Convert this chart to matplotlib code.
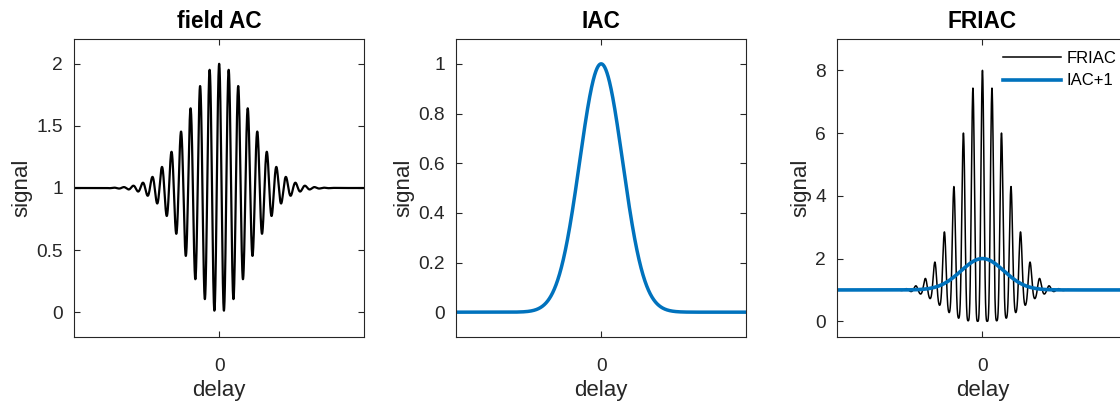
import numpy as np
import matplotlib
matplotlib.use('Agg')
import matplotlib.pyplot as plt

# Gaussian pulse autocorrelations, delay in units of the carrier period
delay_limits = (-15.2, 15.2)
pulse_sigma = 2.25          # intensity envelope width, carrier periods
carrier_period = 1.0

titles = ['field AC', 'IAC', 'FRIAC']
y_limits = [(-0.2, 2.2), (-0.1, 1.1), (-0.5, 9.0)]
y_ticks = [[0, 0.5, 1, 1.5, 2],
           [0, 0.2, 0.4, 0.6, 0.8, 1],
           [0, 2, 4, 6, 8]]
y_ticklabels = [['0', '0.5', '1', '1.5', '2'],
                ['0', '0.2', '0.4', '0.6', '0.8', '1'],
                ['0', '2', '4', '6', '8']]
legend_labels = ['FRIAC', 'IAC+1']

blue = '#0072BD'
gray = '#262626'

tau = np.linspace(delay_limits[0], delay_limits[1], 6001)
phase = 2 * np.pi * tau / carrier_period

field_env = np.exp(-tau**2 / (4 * pulse_sigma**2))
iac = np.exp(-tau**2 / (2 * pulse_sigma**2))
cross = np.exp(-3 * tau**2 / (8 * pulse_sigma**2))

field_ac = 1 + field_env * np.cos(phase)
friac = 1 + 2 * iac + 4 * cross * np.cos(phase) + iac * np.cos(2 * phase)

plt.rcParams['font.family'] = ['Liberation Sans', 'DejaVu Sans']

fig = plt.figure(figsize=(11.2, 4.01), dpi=100)
W, H = 1120, 401
lefts = [74, 456, 837.3]
axes = []
for i, left in enumerate(lefts):
    ax = fig.add_axes([left / W, (H - 337) / H, 290.3 / W, 298 / H])
    axes.append(ax)

axes[0].plot(tau, field_ac, color='black', lw=1.6)
axes[1].plot(tau, iac, color=blue, lw=2.5)
axes[2].plot(tau, friac, color='black', lw=1.1, label=legend_labels[0])
axes[2].plot(tau, iac + 1, color=blue, lw=2.6, label=legend_labels[1])

for i, ax in enumerate(axes):
    ax.set_xlim(delay_limits)
    ax.set_ylim(y_limits[i])
    ax.set_xticks([0])
    ax.set_xticklabels(['0'])
    ax.set_yticks(y_ticks[i])
    ax.set_yticklabels(y_ticklabels[i])
    ax.tick_params(direction='in', length=4, width=0.8, colors=gray,
                   labelsize=13.8, top=True, right=True, pad=8)
    ax.tick_params(axis='x', pad=15)
    for sp in ax.spines.values():
        sp.set_color(gray)
        sp.set_linewidth(0.8)
    ax.set_xlabel('delay', fontsize=16, color=gray, labelpad=4)
    ax.set_ylabel('signal', fontsize=16, color=gray, labelpad=3)
    ax.set_title(titles[i], fontsize=16.3, fontweight='bold', pad=8)

axes[2].legend(loc='upper left', bbox_to_anchor=(0.571, 0.96),
               frameon=False, fontsize=12, handlelength=3.5,
               handletextpad=0.3, labelspacing=0.45, borderpad=0,
               borderaxespad=0)

fig.savefig('out.png', dpi=100)
